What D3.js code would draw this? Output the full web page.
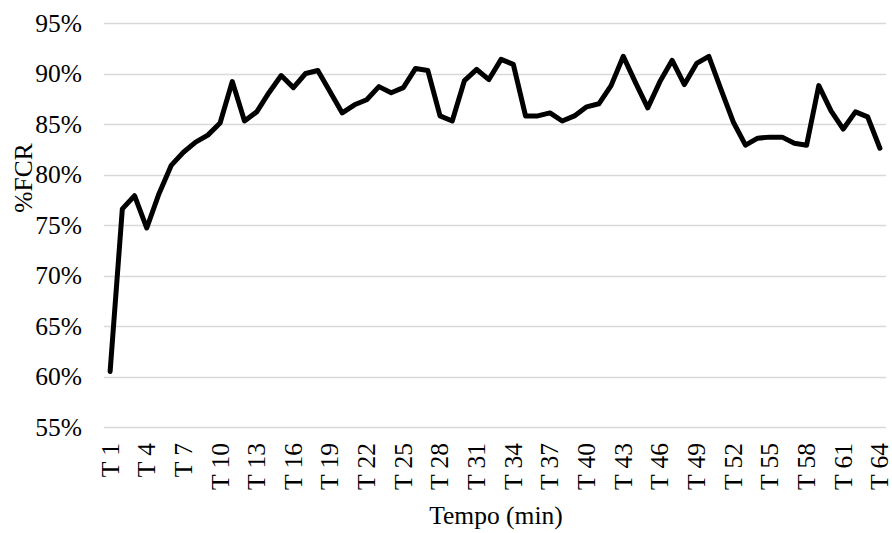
<!DOCTYPE html>
<html>
<head>
<meta charset="utf-8">
<script src="https://cdn.jsdelivr.net/npm/d3@7/dist/d3.min.js"></script>
<style>
  html, body { margin: 0; padding: 0; background: #fff; }
  svg { display: block; }
  text { font-family: "Liberation Serif", "Times New Roman", serif; fill: #000; }
</style>
</head>
<body>
<svg id="chart" width="892" height="533"></svg>
<script>
const categories = d3.range(1, 65).map(i => "T " + i);
const fcrValues = [
  60.5, 76.6, 77.9, 74.7, 78.1, 80.9, 82.2, 83.2, 83.9, 85.1,
  89.2, 85.3, 86.2, 88.1, 89.8, 88.6, 90.0, 90.3, 88.2, 86.1,
  86.9, 87.4, 88.7, 88.1, 88.6, 90.5, 90.3, 85.8, 85.3, 89.3,
  90.4, 89.4, 91.4, 90.9, 85.8, 85.8, 86.1, 85.3, 85.8, 86.7,
  87.0, 88.8, 91.7, 89.1, 86.6, 89.2, 91.3, 88.9, 91.0, 91.7,
  88.4, 85.2, 82.9, 83.6, 83.7, 83.7, 83.1, 82.9, 88.8, 86.3,
  84.5, 86.2, 85.7, 82.6
];
const yTicks = [55, 60, 65, 70, 75, 80, 85, 90, 95];
const xTickLabels = categories.filter((d, i) => i % 3 === 0);
const yTitle = "%FCR";
const xTitle = "Tempo (min)";

const svg = d3.select("#chart");
const plot = { left: 104, right: 886, top: 23, bottom: 427 };
const FS = 25.5;

const x = d3.scaleBand().domain(categories).range([plot.left, plot.right]);
const y = d3.scaleLinear().domain([55, 95]).range([plot.bottom, plot.top]);

// gridlines
svg.append("g")
  .selectAll("line")
  .data(yTicks)
  .join("line")
  .attr("x1", plot.left).attr("x2", plot.right)
  .attr("y1", d => Math.round(y(d)) + 0.5).attr("y2", d => Math.round(y(d)) + 0.5)
  .attr("stroke", "#d9d9d9").attr("stroke-width", 1.3);

// y axis labels
const yAxis = d3.axisLeft(y).tickValues(yTicks).tickFormat(d => d + "%").tickSize(0).tickPadding(0);
const gy = svg.append("g").attr("transform", `translate(82,0)`).call(yAxis);
gy.select(".domain").remove();
gy.selectAll("text").attr("font-size", FS).attr("font-family", "Liberation Serif").attr("fill", "#000");

// x axis labels
const xAxis = d3.axisBottom(x).tickValues(xTickLabels).tickSize(0).tickPadding(0);
const gx = svg.append("g").attr("transform", `translate(0,${plot.bottom})`).call(xAxis);
gx.select(".domain").remove();
gx.selectAll("text")
  .attr("font-size", FS).attr("font-family", "Liberation Serif").attr("fill", "#000")
  .attr("text-anchor", "end")
  .attr("transform", "rotate(-90)")
  .attr("x", -16).attr("y", 0).attr("dy", "0.33em");

// line
const line = d3.line()
  .x((d, i) => x(categories[i]) + x.bandwidth() / 2)
  .y(d => y(d));
svg.append("path")
  .datum(fcrValues)
  .attr("d", line)
  .attr("fill", "none")
  .attr("stroke", "#000")
  .attr("stroke-width", 5)
  .attr("stroke-linejoin", "round")
  .attr("stroke-linecap", "round");

// titles
svg.append("text")
  .attr("transform", "translate(32,178) rotate(-90)")
  .attr("text-anchor", "middle")
  .attr("font-size", FS)
  .text(yTitle);
svg.append("text")
  .attr("x", 496).attr("y", 524)
  .attr("text-anchor", "middle")
  .attr("font-size", FS)
  .text(xTitle);
</script>
</body>
</html>
